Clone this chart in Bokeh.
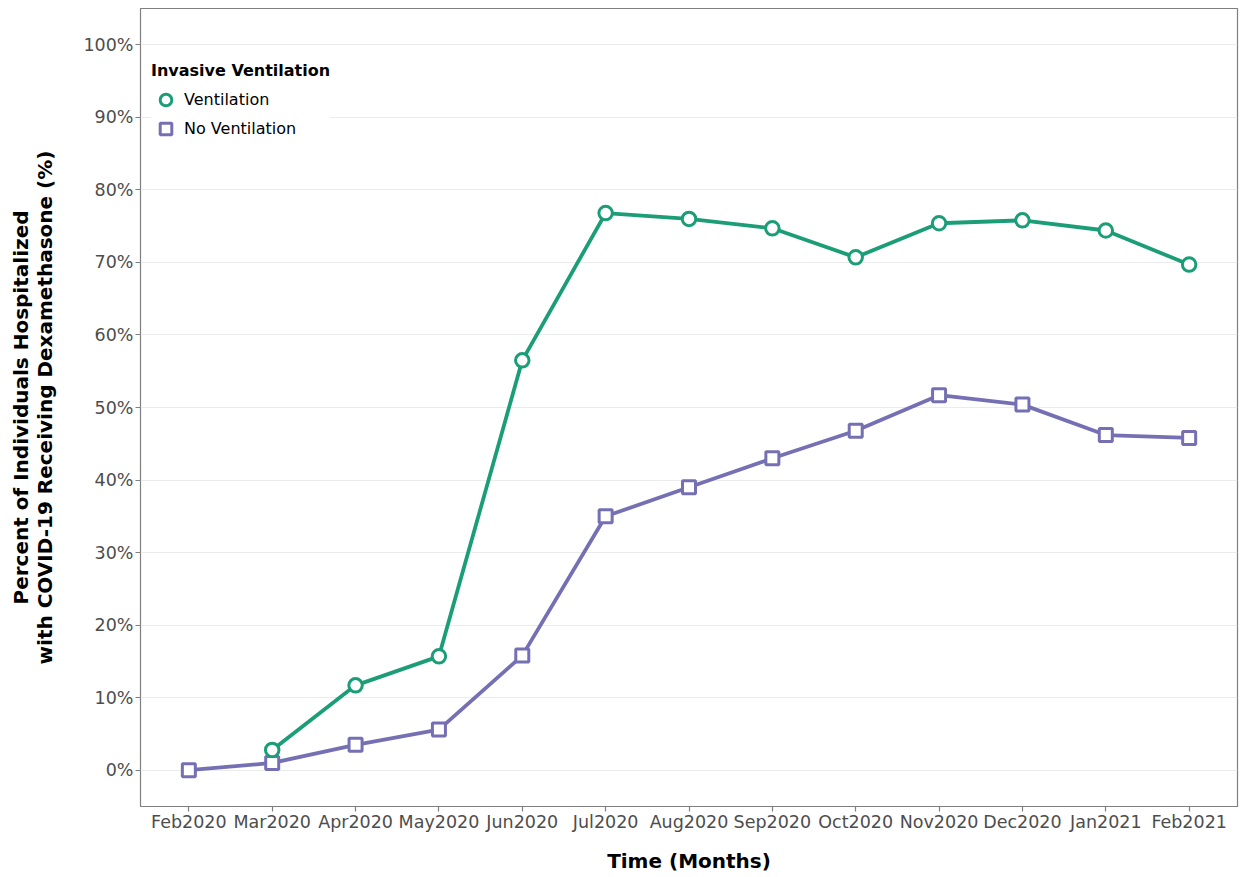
from bokeh.plotting import figure
from bokeh.models import FactorRange, Range1d, FixedTicker, PrintfTickFormatter, Legend, LegendItem
from bokeh.embed import file_html
from bokeh.resources import INLINE

months = ["Feb2020", "Mar2020", "Apr2020", "May2020", "Jun2020", "Jul2020", "Aug2020",
          "Sep2020", "Oct2020", "Nov2020", "Dec2020", "Jan2021", "Feb2021"]
vent_months = months[1:]
ventilation = [2.8, 11.7, 15.7, 56.5, 76.8, 76.0, 74.7, 70.7, 75.4, 75.8, 74.4, 69.7]
no_ventilation = [0.0, 1.0, 3.5, 5.6, 15.8, 35.0, 39.0, 43.0, 46.8, 51.7, 50.4, 46.2, 45.8]
y_ticks = [0, 10, 20, 30, 40, 50, 60, 70, 80, 90, 100]

GREEN = "#1B9E77"
PURPLE = "#7570B3"
FONT = "DejaVu Sans"

FRAME_H = 798
p = figure(x_range=FactorRange(*months, range_padding=0.08, range_padding_units="absolute"),
           y_range=Range1d(-5, 105),
           frame_width=1097, frame_height=FRAME_H,
           min_border_left=140, min_border_right=5, min_border_top=8, min_border_bottom=10,
           output_backend="svg", toolbar_location=None,
           background_fill_color="white", border_fill_color="white")

p.outline_line_color = "#7f7f7f"
p.outline_line_width = 1.2

p.xgrid.visible = False
p.ygrid.grid_line_color = "#EBEBEB"
p.ygrid.grid_line_width = 1.2
p.yaxis.ticker = FixedTicker(ticks=y_ticks)
p.yaxis.formatter = PrintfTickFormatter(format="%d%%")

for ax in (p.xaxis[0], p.yaxis[0]):
    ax.axis_line_color = None
    ax.major_tick_line_color = "#7f7f7f"
    ax.major_tick_line_width = 1.2
    ax.major_tick_out = 5
    ax.major_tick_in = 0
    ax.minor_tick_line_color = None
    ax.major_label_text_font = FONT
    ax.major_label_text_font_size = "17.5px"
    ax.major_label_text_color = "#4D4D4D"
    ax.axis_label_text_font = FONT
    ax.axis_label_text_font_size = "20px"
    ax.axis_label_text_font_style = "bold"
    ax.axis_label_text_color = "black"

p.xaxis.axis_label = "Time (Months)"
p.xaxis.major_label_standoff = 0
p.xaxis.axis_label_standoff = 14
p.yaxis.axis_label = "Percent of Individuals Hospitalized\nwith COVID-19 Receiving Dexamethasone (%)"
p.yaxis.axis_label_text_line_height = 1.0
p.yaxis.major_label_standoff = 2
p.yaxis.axis_label_standoff = 23

p.line(vent_months, ventilation, line_color=GREEN, line_width=3.8)
p.line(months, no_ventilation, line_color=PURPLE, line_width=3.8)
r_nv = p.scatter(months, no_ventilation, marker="square", size=13, fill_color="white",
                 line_color=PURPLE, line_width=3)
r_v = p.scatter(vent_months, ventilation, marker="circle", size=13.5, fill_color="white",
                line_color=GREEN, line_width=3)

legend = Legend(items=[LegendItem(label="Ventilation", renderers=[r_v]),
                       LegendItem(label="No Ventilation", renderers=[r_nv])],
                location=(11, FRAME_H - 135))
legend.title = "Invasive Ventilation"
legend.title_text_font = FONT
legend.title_text_font_size = "16px"
legend.title_text_font_style = "bold"
legend.title_text_color = "black"
legend.title_standoff = 5
legend.label_text_font = FONT
legend.label_text_font_size = "16px"
legend.label_text_color = "black"
legend.glyph_width = 29
legend.glyph_height = 29
legend.label_height = 29
legend.spacing = 0
legend.label_standoff = 4
legend.padding = 8
legend.border_line_color = None
legend.background_fill_color = "white"
legend.background_fill_alpha = 1.0
p.add_layout(legend)

open("out.html", "w").write(file_html(p, INLINE))
